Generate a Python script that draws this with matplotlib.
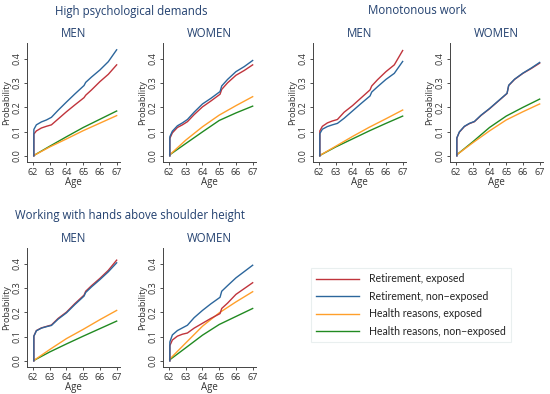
import matplotlib
matplotlib.use("Agg")
import matplotlib.pyplot as plt

plt.rcParams['font.family'] = ['Open Sans', 'DejaVu Sans']

# shared age grids
ret_ages = [62.05, 62.05, 62.2, 62.5, 62.8, 63.1, 63.5, 64.0, 64.5, 65.05, 65.15, 65.5, 66.0, 66.5, 67.0]
health_ages = [62.05, 63, 64, 65, 66, 67]

# High psychological demands
hpd_men_ret_exp = [0, 0.090, 0.103, 0.115, 0.122, 0.128, 0.152, 0.182, 0.210, 0.240, 0.250, 0.272, 0.306, 0.336, 0.375]
hpd_men_ret_non = [0, 0.109, 0.128, 0.140, 0.148, 0.159, 0.188, 0.222, 0.255, 0.290, 0.303, 0.325, 0.354, 0.388, 0.437]
hpd_men_hea_exp = [0.002, 0.037, 0.070, 0.104, 0.135, 0.166]
hpd_men_hea_non = [0.002, 0.040, 0.079, 0.117, 0.151, 0.185]
hpd_wom_ret_exp = [0, 0.072, 0.095, 0.117, 0.128, 0.141, 0.170, 0.202, 0.226, 0.254, 0.274, 0.301, 0.332, 0.352, 0.375]
hpd_wom_ret_non = [0, 0.079, 0.102, 0.124, 0.136, 0.150, 0.180, 0.214, 0.237, 0.265, 0.288, 0.315, 0.347, 0.368, 0.393]
hpd_wom_hea_exp = [0.005, 0.065, 0.120, 0.168, 0.207, 0.244]
hpd_wom_hea_non = [0.005, 0.051, 0.099, 0.146, 0.177, 0.205]

# Monotonous work
mon_men_ret_exp = [0, 0.103, 0.122, 0.136, 0.144, 0.150, 0.180, 0.207, 0.238, 0.272, 0.288, 0.314, 0.347, 0.375, 0.434]
mon_men_ret_non = [0, 0.092, 0.110, 0.121, 0.128, 0.134, 0.155, 0.185, 0.215, 0.247, 0.263, 0.285, 0.315, 0.340, 0.389]
mon_men_hea_exp = [0.002, 0.040, 0.080, 0.118, 0.153, 0.189]
mon_men_hea_non = [0.002, 0.037, 0.070, 0.103, 0.134, 0.164]
mon_wom_ret_exp = [0, 0.074, 0.098, 0.121, 0.133, 0.141, 0.167, 0.194, 0.224, 0.257, 0.290, 0.315, 0.340, 0.360, 0.382]
mon_wom_ret_non = [0, 0.074, 0.099, 0.122, 0.134, 0.142, 0.168, 0.195, 0.225, 0.258, 0.291, 0.316, 0.341, 0.362, 0.385]
mon_wom_hea_exp = [0.005, 0.054, 0.103, 0.148, 0.182, 0.214]
mon_wom_hea_non = [0.005, 0.058, 0.117, 0.164, 0.200, 0.234]

# Working with hands above shoulder height
sho_men_ret_exp = [0, 0.102, 0.125, 0.136, 0.142, 0.148, 0.175, 0.201, 0.236, 0.271, 0.287, 0.310, 0.340, 0.373, 0.415]
sho_men_ret_non = [0, 0.102, 0.124, 0.135, 0.141, 0.146, 0.172, 0.198, 0.232, 0.267, 0.282, 0.305, 0.335, 0.367, 0.404]
sho_men_hea_exp = [0.002, 0.047, 0.092, 0.130, 0.170, 0.208]
sho_men_hea_non = [0.002, 0.037, 0.070, 0.102, 0.133, 0.164]
sho_wom_ret_exp = [0, 0.063, 0.086, 0.102, 0.110, 0.115, 0.135, 0.155, 0.175, 0.195, 0.216, 0.238, 0.274, 0.298, 0.322]
sho_wom_ret_non = [0, 0.078, 0.107, 0.125, 0.136, 0.147, 0.178, 0.208, 0.235, 0.262, 0.287, 0.310, 0.342, 0.368, 0.394]
sho_wom_hea_exp = [0.008, 0.074, 0.143, 0.198, 0.243, 0.285]
sho_wom_hea_non = [0.005, 0.054, 0.106, 0.150, 0.183, 0.216]

labels = ["Retirement, exposed", "Retirement, non\u2212exposed",
          "Health reasons, exposed", "Health reasons, non\u2212exposed"]
colors = ["#c0343c", "#2c669c", "#ff9f2a", "#218a21"]
title_color = "#22406f"
text_color = "#333333"

W, H = 550, 394
fig = plt.figure(figsize=(5.5, 3.94), dpi=100)

# (left px, top px, bottom px, subtitle, data)
panels = [
    (27, 43, 162, "MEN", (hpd_men_ret_exp, hpd_men_ret_non, hpd_men_hea_exp, hpd_men_hea_non)),
    (163, 43, 162, "WOMEN", (hpd_wom_ret_exp, hpd_wom_ret_non, hpd_wom_hea_exp, hpd_wom_hea_non)),
    (313, 43, 162, "MEN", (mon_men_ret_exp, mon_men_ret_non, mon_men_hea_exp, mon_men_hea_non)),
    (450, 43, 162, "WOMEN", (mon_wom_ret_exp, mon_wom_ret_non, mon_wom_hea_exp, mon_wom_hea_non)),
    (27, 248, 367, "MEN", (sho_men_ret_exp, sho_men_ret_non, sho_men_hea_exp, sho_men_hea_non)),
    (163, 248, 367, "WOMEN", (sho_wom_ret_exp, sho_wom_ret_non, sho_wom_hea_exp, sho_wom_hea_non)),
]

handles = None
for left, top, bottom, sub, (rexp, rnon, hexp, hnon) in panels:
    ax = fig.add_axes([left / W, 1 - bottom / H, 93 / W, (bottom - top) / H])
    l1, = ax.plot(health_ages, hnon, color=colors[3], lw=1.0)
    l2, = ax.plot(health_ages, hexp, color=colors[2], lw=1.0)
    l3, = ax.plot(ret_ages, rexp, color=colors[0], lw=1.0)
    l4, = ax.plot(ret_ages, rnon, color=colors[1], lw=1.0)
    handles = [l3, l4, l2, l1]
    ax.set_xlim(61.64, 67.2)
    ax.set_ylim(-0.025, 0.465)
    ax.set_xticks([62, 63, 64, 65, 66, 67])
    ax.set_yticks([0.0, 0.1, 0.2, 0.3, 0.4])
    ax.set_yticklabels(["0.0", "0.1", "0.2", "0.3", "0.4"], rotation=90, va="center")
    ax.tick_params(labelsize=6.5, length=2.5, width=0.6, pad=1.5, colors=text_color)
    for s in ["top", "right"]:
        ax.spines[s].set_visible(False)
    for s in ["left", "bottom"]:
        ax.spines[s].set_linewidth(0.7)
        ax.spines[s].set_color("#444444")
    ax.set_xlabel("Age", fontsize=7, color=text_color, labelpad=0)
    ax.set_ylabel("Probability", fontsize=6.5, color=text_color, labelpad=1)
    ax.set_title(sub, fontsize=8.3, color=title_color, pad=4)

fig.text(131 / W, 1 - 11 / H, "High psychological demands", ha="center", va="center",
         fontsize=8.3, color=title_color)
fig.text(417 / W, 1 - 11 / H, "Monotonous work", ha="center", va="center",
         fontsize=8.3, color=title_color)
fig.text(130 / W, 1 - 215 / H, "Working with hands above shoulder height", ha="center", va="center",
         fontsize=8.3, color=title_color)

leg = fig.legend(handles, labels, loc="upper left", bbox_to_anchor=(311 / W, 1 - 268 / H),
                 prop={"family": ["Lato", "DejaVu Sans"], "size": 7.6},
                 handlelength=4.0, handletextpad=0.95, labelspacing=0.62,
                 frameon=True, fancybox=False, borderpad=0.5, borderaxespad=0)
leg.get_frame().set_edgecolor("#e4ecec")
leg.get_frame().set_linewidth(0.8)
for t in leg.get_texts():
    t.set_color("#222222")

fig.savefig("out.png", dpi=100)
